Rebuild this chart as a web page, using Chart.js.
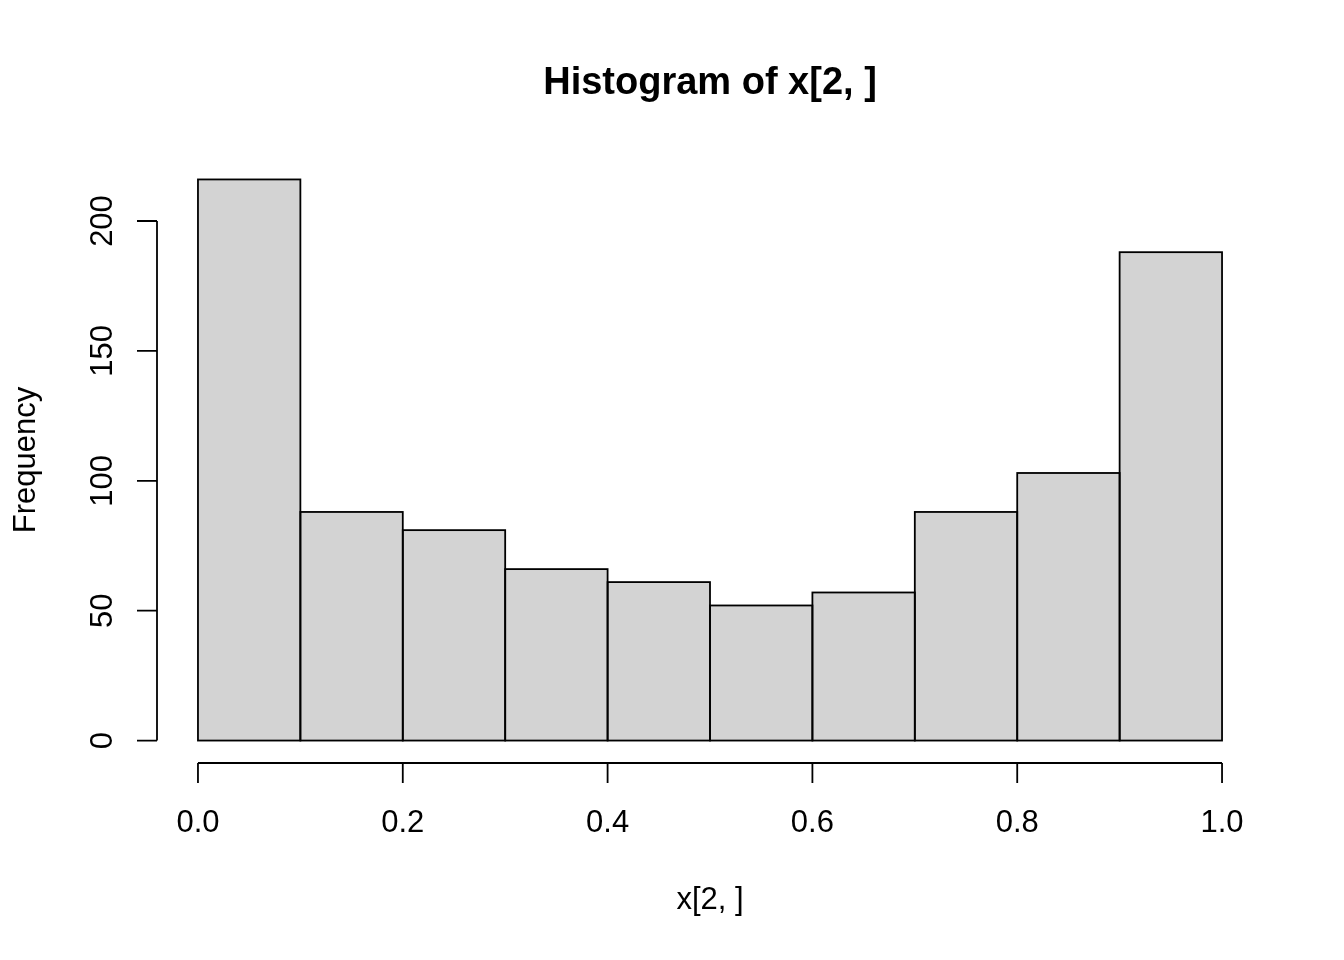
<!DOCTYPE html>
<html lang="en">
<head>
    <meta charset="UTF-8">
    <title>Histogram of x[2, ]</title>
    <script src="https://cdn.jsdelivr.net/npm/chart.js"></script>
    <style>
        html, body { margin: 0; padding: 0; background: #ffffff; }
        #chart { display: block; }
    </style>
</head>
<body>
    <canvas id="chart" width="1344" height="960"></canvas>

    <script>
        // histogram bins and counts
        const binEdges = [0.0, 0.1, 0.2, 0.3, 0.4, 0.5, 0.6, 0.7, 0.8, 0.9, 1.0];
        const counts = [216, 88, 81, 66, 61, 52, 57, 88, 103, 188];
        const xTicks = [0.0, 0.2, 0.4, 0.6, 0.8, 1.0];
        const xTickLabels = ['0.0', '0.2', '0.4', '0.6', '0.8', '1.0'];
        const yTicks = [0, 50, 100, 150, 200];
        const titleText = 'Histogram of x[2, ]';
        const xLabel = 'x[2, ]';
        const yLabel = 'Frequency';

        const FONT = '"Liberation Sans", Arial, Helvetica, sans-serif';

        const points = counts.map((c, i) => ({
            x: (binEdges[i] + binEdges[i + 1]) / 2,
            y: c
        }));

        // outline each bar like R's rect(): one line on the shared edges
        const barOutline = {
            id: 'barOutline',
            afterDatasetsDraw(chart) {
                const ctx = chart.ctx;
                const bars = chart.getDatasetMeta(0).data;
                ctx.save();
                ctx.strokeStyle = '#000';
                ctx.lineWidth = 1.8;
                bars.forEach(bar => {
                    const p = bar.getProps(['x', 'y', 'base', 'width'], true);
                    ctx.strokeRect(p.x - p.width / 2, p.y, p.width, p.base - p.y);
                });
                ctx.restore();
            }
        };

        // R style detached axes, drawn through the chart scales
        const rAxes = {
            id: 'rAxes',
            afterDraw(chart) {
                const ctx = chart.ctx;
                const xs = chart.scales.x;
                const ys = chart.scales.y;
                const area = chart.chartArea;
                const tick = 20;

                ctx.save();
                ctx.strokeStyle = '#000';
                ctx.fillStyle = '#000';
                ctx.lineWidth = 1.8;

                // x axis
                const xy = area.bottom;
                ctx.beginPath();
                ctx.moveTo(xs.getPixelForValue(xTicks[0]), xy);
                ctx.lineTo(xs.getPixelForValue(xTicks[xTicks.length - 1]), xy);
                xTicks.forEach(v => {
                    const px = xs.getPixelForValue(v);
                    ctx.moveTo(px, xy);
                    ctx.lineTo(px, xy + tick);
                });
                ctx.stroke();

                ctx.font = '31px ' + FONT;
                ctx.textAlign = 'center';
                ctx.textBaseline = 'alphabetic';
                xTicks.forEach((v, i) => {
                    ctx.fillText(xTickLabels[i], xs.getPixelForValue(v), 832);
                });

                // y axis
                const yx = area.left;
                ctx.beginPath();
                ctx.moveTo(yx, ys.getPixelForValue(yTicks[0]));
                ctx.lineTo(yx, ys.getPixelForValue(yTicks[yTicks.length - 1]));
                yTicks.forEach(v => {
                    const py = ys.getPixelForValue(v);
                    ctx.moveTo(yx, py);
                    ctx.lineTo(yx - tick, py);
                });
                ctx.stroke();

                yTicks.forEach(v => {
                    ctx.save();
                    ctx.translate(112, ys.getPixelForValue(v));
                    ctx.rotate(-Math.PI / 2);
                    ctx.fillText(String(v), 0, 0);
                    ctx.restore();
                });

                // titles
                const cx = (area.left + area.right) / 2;
                const cy = (area.top + area.bottom) / 2;
                ctx.fillText(xLabel, cx, 909);

                ctx.save();
                ctx.translate(35, cy);
                ctx.rotate(-Math.PI / 2);
                ctx.fillText(yLabel, 0, 0);
                ctx.restore();

                ctx.font = 'bold 38px ' + FONT;
                ctx.fillText(titleText, cx, 94);

                ctx.restore();
            }
        };

        const maxCount = Math.max(...counts);
        const span = binEdges[binEdges.length - 1] - binEdges[0];

        new Chart(document.getElementById('chart'), {
            type: 'bar',
            data: {
                datasets: [{
                    data: points,
                    backgroundColor: '#d3d3d3',
                    borderWidth: 0,
                    inflateAmount: 0,
                    barPercentage: 1,
                    categoryPercentage: 1
                }]
            },
            options: {
                responsive: false,
                animation: false,
                devicePixelRatio: 1,
                layout: { padding: { left: 157, right: 81, top: 157, bottom: 197 } },
                scales: {
                    x: {
                        type: 'linear',
                        display: false,
                        min: binEdges[0] - 0.04 * span,
                        max: binEdges[binEdges.length - 1] + 0.04 * span,
                        offset: false
                    },
                    y: {
                        display: false,
                        min: -0.04 * maxCount,
                        max: 1.04 * maxCount
                    }
                },
                plugins: {
                    legend: { display: false },
                    tooltip: { enabled: false }
                }
            },
            plugins: [barOutline, rAxes]
        });
    </script>
</body>
</html>
